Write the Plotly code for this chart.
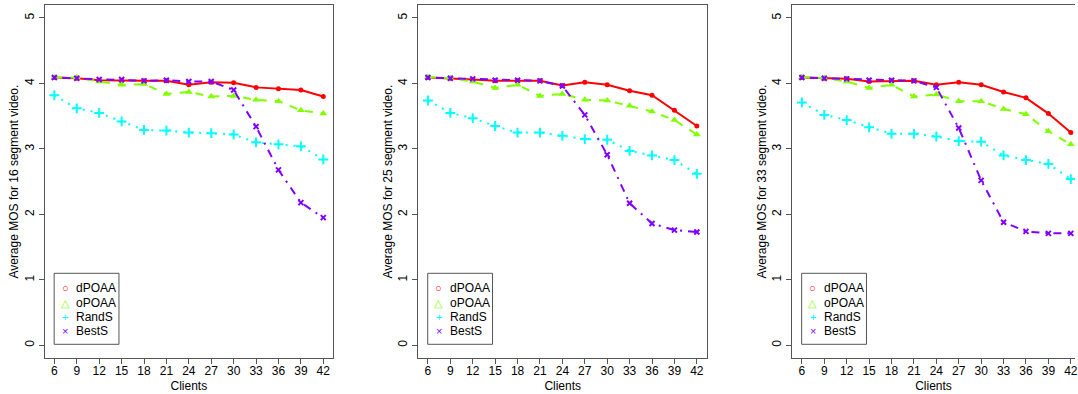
import plotly.graph_objects as go

# ---------------- data ----------------
clients = [6, 9, 12, 15, 18, 21, 24, 27, 30, 33, 36, 39, 42]
series_names = ["dPOAA", "oPOAA", "RandS", "BestS"]
segments = [16, 25, 33]

dPOAA_16 = [4.09, 4.08, 4.05, 4.04, 4.04, 4.04, 3.98, 4.02, 4.01, 3.94, 3.92, 3.90, 3.80]
oPOAA_16 = [4.09, 4.09, 4.03, 3.98, 3.99, 3.84, 3.87, 3.80, 3.81, 3.75, 3.73, 3.59, 3.54]
RandS_16 = [3.82, 3.62, 3.55, 3.42, 3.29, 3.28, 3.25, 3.24, 3.22, 3.10, 3.07, 3.04, 2.84]
BestS_16 = [4.09, 4.08, 4.06, 4.06, 4.04, 4.05, 4.03, 4.03, 3.90, 3.34, 2.68, 2.18, 1.95]

dPOAA_25 = [4.09, 4.08, 4.06, 4.04, 4.04, 4.04, 3.97, 4.02, 3.98, 3.89, 3.82, 3.59, 3.35]
oPOAA_25 = [4.10, 4.08, 4.03, 3.93, 3.98, 3.81, 3.84, 3.75, 3.74, 3.66, 3.57, 3.44, 3.22]
RandS_25 = [3.74, 3.55, 3.47, 3.35, 3.25, 3.25, 3.20, 3.15, 3.14, 2.97, 2.90, 2.83, 2.62]
BestS_25 = [4.09, 4.08, 4.07, 4.05, 4.05, 4.04, 3.96, 3.52, 2.91, 2.17, 1.86, 1.76, 1.73]

dPOAA_33 = [4.09, 4.08, 4.07, 4.03, 4.04, 4.04, 3.98, 4.02, 3.98, 3.87, 3.78, 3.54, 3.25]
oPOAA_33 = [4.10, 4.08, 4.03, 3.93, 3.98, 3.80, 3.83, 3.73, 3.73, 3.61, 3.53, 3.27, 3.07]
RandS_33 = [3.71, 3.52, 3.44, 3.33, 3.23, 3.23, 3.19, 3.12, 3.11, 2.90, 2.83, 2.77, 2.54]
BestS_33 = [4.09, 4.08, 4.07, 4.05, 4.05, 4.04, 3.94, 3.32, 2.52, 1.88, 1.74, 1.71, 1.71]

panels = [
    [dPOAA_16, oPOAA_16, RandS_16, BestS_16],
    [dPOAA_25, oPOAA_25, RandS_25, BestS_25],
    [dPOAA_33, oPOAA_33, RandS_33, BestS_33],
]
y_ticks = [0, 1, 2, 3, 4, 5]

# ---------------- style ----------------
W, H = 1078, 394
FONT = "Liberation Sans, Arial, Helvetica, sans-serif"
AXIS_COL = "#555555"
colors = ["#FF0000", "#80FF00", "#00FFFF", "#8000FF"]
dashes = ["solid", "8px,8px", "2px,6px", "2px,6px,8px,6px"]
markers = [
    dict(symbol="circle", size=5),
    dict(symbol="triangle-up", size=7),
    dict(symbol="cross-thin", size=7, line=dict(width=2)),
    dict(symbol="x-thin", size=5, line=dict(width=2)),
]
legend_glyphs = ["○", "△", "+", "×"]

left_px = [44.7, 419.3, 794.3]
right_px = [334.0, 709.3, 1078.0]
top_px, bottom_px = 4.9, 358.4
px_per_unit = 289.3 / 38.62
x0_range = 4.69


def fx(p):
    return p / W


def fy(p):
    return 1 - p / H


fig = go.Figure()
layout = dict(
    width=W, height=H,
    margin=dict(l=0, r=0, t=0, b=0),
    paper_bgcolor="white", plot_bgcolor="white",
    showlegend=False,
    font=dict(family=FONT, size=12, color="black"),
)
shapes, annotations = [], []

for i, (seg, data) in enumerate(zip(segments, panels)):
    n = "" if i == 0 else str(i + 1)
    xa, ya = "x" + n, "y" + n
    for k, (name, vals) in enumerate(zip(series_names, data)):
        mk = dict(markers[k])
        mk["color"] = colors[k]
        if "line" in mk:
            mk["line"] = dict(mk["line"], color=colors[k])
        fig.add_trace(go.Scatter(
            x=clients, y=vals, name=name, mode="lines+markers",
            line=dict(color=colors[k], width=2, dash=dashes[k]),
            marker=mk, xaxis=xa, yaxis=ya, showlegend=False,
        ))
    width_px = right_px[i] - left_px[i]
    xr = [x0_range, x0_range + width_px / px_per_unit]
    layout["xaxis" + n] = dict(
        domain=[fx(left_px[i]), fx(right_px[i])], anchor=ya, range=xr,
        tickmode="array", tickvals=clients, ticktext=[str(c) for c in clients],
        ticks="outside", ticklen=5, tickcolor=AXIS_COL, showgrid=False, zeroline=False,
        showline=True, linecolor=AXIS_COL, linewidth=1, mirror=True,
        tickfont=dict(size=12, color="black"),
        ticklabeloverflow="allow", ticklabelstandoff=-4,
        title=dict(text="Clients", font=dict(size=12), standoff=4),
    )
    layout["yaxis" + n] = dict(
        domain=[fy(bottom_px), fy(top_px)], anchor=xa, range=[-0.2, 5.2],
        tickmode="array", tickvals=y_ticks, tickangle=-90,
        ticks="outside", ticklen=5, tickcolor=AXIS_COL, showgrid=False, zeroline=False,
        showline=True, linecolor=AXIS_COL, linewidth=1, mirror=(i < 2),
        tickfont=dict(size=12, color="black"),
        title=dict(text=f"Average MOS for {seg} segment video.", font=dict(size=12), standoff=1),
    )
    # legend box (drawn manually, R-style)
    bl = left_px[i] + 9.6
    bt, bb = 273.3, 344.3
    shapes.append(dict(type="rect", xref="paper", yref="paper",
                       x0=fx(bl), x1=fx(bl + 65), y0=fy(bb), y1=fy(bt),
                       line=dict(color=AXIS_COL, width=1), fillcolor="white", layer="above"))
    rows = [288.3, 302.7, 317.0, 331.3]
    for k, name in enumerate(series_names):
        annotations.append(dict(xref="paper", yref="paper", x=fx(bl + 11), y=fy(rows[k]),
                                text=legend_glyphs[k], showarrow=False, xanchor="center",
                                yanchor="middle", font=dict(size=11, color=colors[k])))
        annotations.append(dict(xref="paper", yref="paper", x=fx(bl + 20), y=fy(rows[k]),
                                text=name, showarrow=False, xanchor="left",
                                yanchor="middle", font=dict(size=12, color="black")))

layout["shapes"] = shapes
layout["annotations"] = annotations
fig.update_layout(**layout)
fig.write_html(
    "out.html",
    config={"displayModeBar": False},
    post_script="document.body.style.margin='0';document.body.style.overflow='hidden';",
)
